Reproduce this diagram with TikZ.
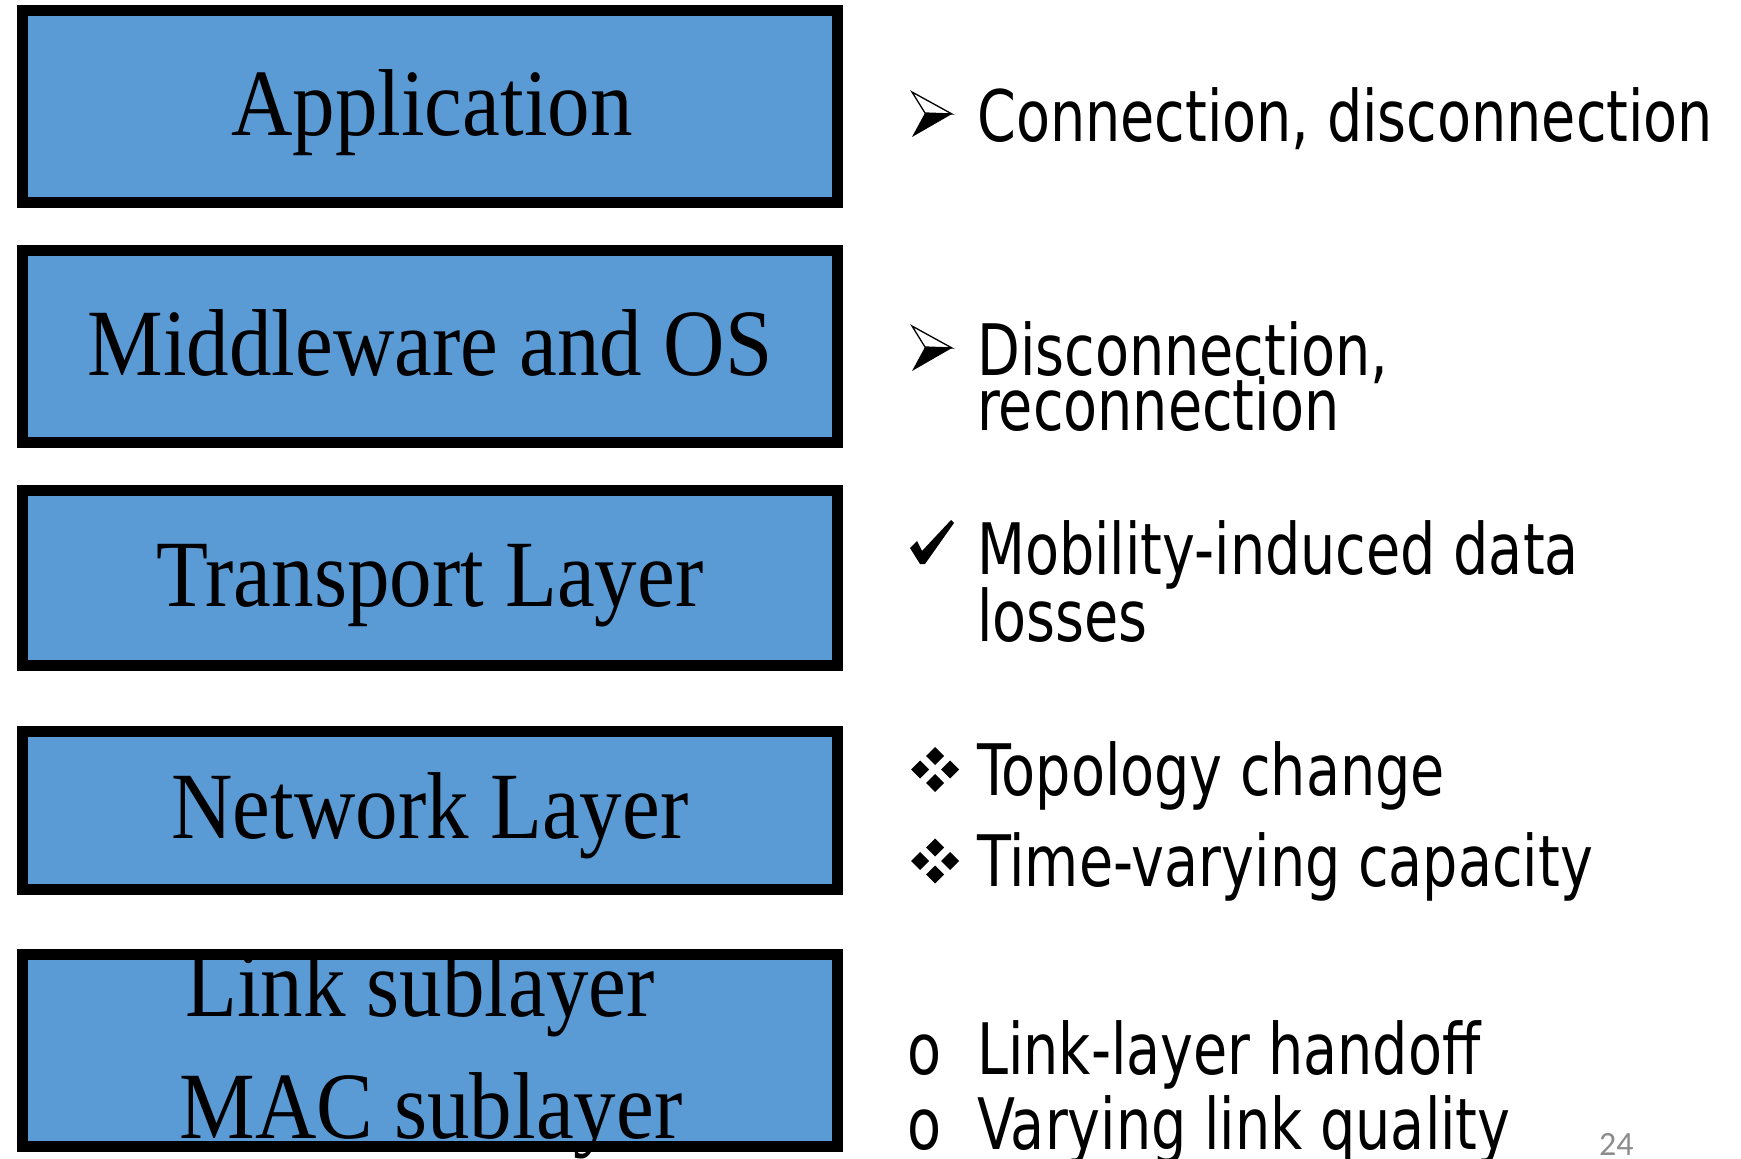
\documentclass[tikz,border=0pt]{standalone}
\usepackage{fontspec}
\newfontfamily\layerfont[FakeStretch=0.895]{Liberation Serif}
\newfontfamily\notefont[FakeStretch=0.783]{DejaVu Sans}
\newfontfamily\pagefont{Carlito}
\definecolor{layerblue}{HTML}{5B9BD5}
\definecolor{pagegray}{HTML}{8C8C8C}

\tikzset{
  layerbox/.style={draw=black, line width=11pt, fill=layerblue,
    minimum width=815pt, inner sep=0pt},
  layerlabel/.style={anchor=base, inner sep=0pt,
    font=\layerfont\fontsize{95}{95}\selectfont},
  note/.style={anchor=base west, inner sep=0pt,
    font=\notefont\fontsize{71}{71}\selectfont},
  pagenum/.style={anchor=base west, inner sep=0pt, text=pagegray,
    font=\pagefont\fontsize{34}{34}\selectfont},
  % 3-D arrowhead bullet, origin at the tip
  arrowbullet/.pic={
    \fill[black] (-27,-1) -- (0,0) -- (-40,23) -- cycle;
    \draw[black, line width=1.3pt, line join=miter, fill=white]
      (-40,-22) -- (0,0) -- (-27,-1) -- cycle;
  },
  % heavy check mark, origin at its upper left corner
  checkbullet/.pic={
    \fill[black] (0,28) -- (7,21) -- (12,31) -- (41,0) -- (44,3)
      -- (15,44) -- (10,44) -- cycle;
  },
  % four diamonds, origin at the centre of the group
  diamondbullet/.pic={
    \foreach \dx/\dy in {0/-13.5, -15/0, 15/0, 0/13.5}
      \fill[black] (\dx,\dy) +(0,-9) -- +(9,0) -- +(0,9) -- +(-9,0) -- cycle;
  },
}

\begin{document}
\begin{tikzpicture}[x=1pt, y=-1pt]
\useasboundingbox (0,0) rectangle (1741,1159);

% protocol stack
\node[layerbox, minimum height=192pt] (app)  at (430,106.5) {};
\node[layerbox, minimum height=192pt] (mid)  at (430,346.5) {};
\node[layerbox, minimum height=175pt] (trn)  at (430,578)   {};
\node[layerbox, minimum height=158pt] (net)  at (430,810.5) {};
\node[layerbox, minimum height=192pt] (link) at (430,1050.5) {};

\node[layerlabel] (appT)  at (432,135)  {Application};
\node[layerlabel] (midT)  at (430,375)  {Middleware and OS};
\node[layerlabel] (trnT)  at (430,606)  {Transport Layer};
\node[layerlabel] (netT)  at (430,838)  {Network Layer};
\node[layerlabel] (linkT) at (420,1016) {Link sublayer};
\node[layerlabel] (macT)  at (431,1138) {MAC sublayer};

% issues per layer
\pic at (952,114) {arrowbullet};
\node[note] (n1) at (977,141) {Connection, disconnection};

\pic at (952,348) {arrowbullet};
\node[note] (n2a) at (977,375) {Disconnection,};
\node[note] (n2b) at (977,430) {reconnection};

\pic at (910,520) {checkbullet};
\node[note] (n3a) at (977,574) {Mobility-induced data};
\node[note] (n3b) at (977,641) {losses};

\pic at (935,769.5) {diamondbullet};
\node[note] (n4a) at (977,795) {Topology change};
\pic at (935,861) {diamondbullet};
\node[note] (n4b) at (977,886) {Time-varying capacity};

\node[note] (o1) at (907,1074) {o};
\node[note] (n5a) at (977,1074) {Link-layer handoff};
\node[note] (o2) at (907,1149) {o};
\node[note] (n5b) at (977,1149) {Varying link quality};

% slide number
\node[pagenum] (pg) at (1599,1155) {24};
\end{tikzpicture}
\end{document}
